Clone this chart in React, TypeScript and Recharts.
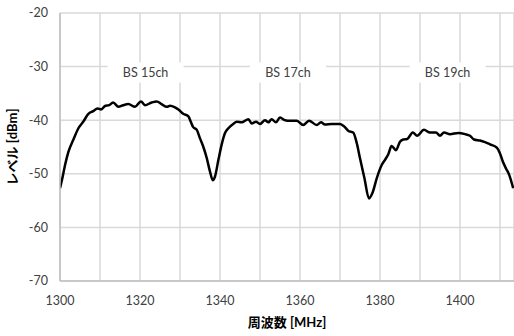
import React from "react";
import {
  LineChart,
  Line,
  XAxis,
  YAxis,
  CartesianGrid,
  Scatter,
  Label,
} from "recharts";

// 周波数 [MHz]
const freqs = [
  1300, 1300.6, 1301.25, 1302.1, 1303.3, 1304.6, 1305.8, 1307.1, 1308.3, 1309.4,
  1310.25, 1311.25, 1312.3, 1313.3, 1314.6, 1315.8, 1317.1, 1318.75, 1320.25, 1321.25,
  1322.9, 1324.2, 1325.4, 1326.7, 1327.5, 1328.75, 1329.6, 1330.8, 1332.1, 1332.7,
  1333.3, 1334.2, 1335, 1335.8, 1336.7, 1337.5, 1338.2, 1338.75, 1339.6, 1340.4,
  1341.25, 1342.1, 1343.3, 1344.2, 1345.4, 1347.1, 1347.9, 1349, 1350, 1351.25,
  1352.1, 1352.9, 1354, 1355, 1356.25, 1357.5, 1359.2, 1360.8, 1362.25, 1364.2,
  1365.25, 1366.25, 1367.9, 1370, 1371.1, 1372.1, 1373.3, 1374.2, 1375, 1376.1,
  1377.25, 1378.1, 1379.2, 1380.4, 1381.25, 1382.1, 1382.9, 1384, 1385, 1385.8,
  1386.8, 1388.2, 1389.3, 1391, 1392.5, 1394, 1395, 1396, 1397.5, 1399.6,
  1401.25, 1402.5, 1403.5, 1405, 1406.25, 1407.5, 1409.2, 1410, 1410.7, 1411.5,
  1412.3, 1413.3,
];

// レベル [dBm]
const levels = [
  -52.7, -50.8, -48.4, -45.9, -43.7, -41.5, -40.3, -38.8, -38.3, -37.8,
  -38.0, -37.35, -37.2, -36.7, -37.5, -37.2, -37.0, -37.5, -36.5, -37.2,
  -36.7, -36.5, -37.0, -37.5, -37.3, -37.6, -38.0, -38.8, -39.3, -40.3,
  -41.3, -41.8, -43.4, -44.9, -47.1, -49.6, -51.2, -50.5, -47.4, -44.6,
  -42.4, -41.5, -40.7, -40.3, -40.4, -39.8, -40.6, -40.3, -40.7, -40.0,
  -40.4, -39.8, -40.4, -39.5, -40.0, -40.1, -40.1, -40.9, -40.1, -40.9,
  -40.4, -40.8, -40.7, -40.7, -41.2, -42.0, -42.3, -44.3, -47.1, -50.8,
  -54.6, -53.6, -50.8, -48.4, -47.4, -46.3, -44.8, -45.6, -44.0, -43.6,
  -43.5, -42.3, -42.9, -41.8, -42.3, -42.3, -42.9, -42.3, -42.6, -42.4,
  -42.6, -42.9, -43.6, -43.8, -44.1, -44.5, -45.1, -46.2, -47.7, -49.0,
  -50.2, -52.7,
];

const channelNames = ["BS 15ch", "BS 17ch", "BS 19ch"];
const channelFreqs = [1321.4, 1357, 1396.9];
const channelLevel = -31.1;

const xTicks = [1300, 1310, 1320, 1330, 1340, 1350, 1360, 1370, 1380, 1390, 1400, 1410];
const yTicks = [-70, -60, -50, -40, -30, -20];

const data = freqs.map((f, i) => ({ f, v: levels[i] }));
const labels = channelNames.map((name, i) => ({ f: channelFreqs[i], v: channelLevel, name }));

const FONT = "Lato, 'Noto Sans CJK JP', sans-serif";
const GRID = "#d9d9d9";
const AXIS = "#bfbfbf";
const TEXT = "#404040";

const ChannelLabel = (props: any) => {
  const { cx, cy, payload } = props;
  return (
    <g>
      <rect x={cx - 38} y={cy - 10} width={76} height={20} fill="#ffffff" />
      <text
        x={cx}
        y={cy}
        textAnchor="middle"
        dominantBaseline="central"
        fontSize={12.5}
        fontFamily={FONT}
        fill={TEXT}
      >
        {payload.name}
      </text>
    </g>
  );
};

export default function App() {
  return (
    <div style={{ position: "fixed", left: 0, top: 0, width: 514, height: 336, background: "#fff" }}>
      <LineChart
        width={514}
        height={336}
        data={data}
        margin={{ top: 13, right: 0, left: 0, bottom: 25 }}
      >
        <CartesianGrid stroke={GRID} strokeWidth={1.5} />
        <XAxis
          dataKey="f"
          type="number"
          domain={[1300, 1413.5]}
          ticks={xTicks}
          allowDataOverflow
          tickFormatter={(v: number) => (v % 20 === 0 ? String(v) : "")}
          stroke={AXIS}
          strokeWidth={1.5}
          tickLine={false}
          tickMargin={9}
          height={30}
          tick={{ fill: TEXT, fontSize: 12.5, fontFamily: FONT }}
        >
          <Label
            value="周波数 [MHz]"
            position="insideBottom"
            offset={-16}
            style={{ fontWeight: "bold", fontSize: 13, fontFamily: FONT, fill: "#000" }}
          />
        </XAxis>
        <YAxis
          dataKey="v"
          type="number"
          domain={[-70, -20]}
          ticks={yTicks}
          width={60}
          stroke={AXIS}
          strokeWidth={1.5}
          tickLine={false}
          tickMargin={6}
          tick={{ fill: TEXT, fontSize: 12.5, fontFamily: FONT }}
        >
          <Label
            value="レベル [dBm]"
            angle={-90}
            position="insideLeft"
            offset={12}
            style={{ textAnchor: "middle", fontWeight: "bold", fontSize: 13, fontFamily: FONT, fill: "#000" }}
          />
        </YAxis>
        <Scatter data={labels} dataKey="v" shape={ChannelLabel} isAnimationActive={false} />
        <Line
          type="monotone"
          dataKey="v"
          stroke="#000"
          strokeWidth={2.5}
          dot={false}
          activeDot={false}
          isAnimationActive={false}
        />
      </LineChart>
    </div>
  );
}
